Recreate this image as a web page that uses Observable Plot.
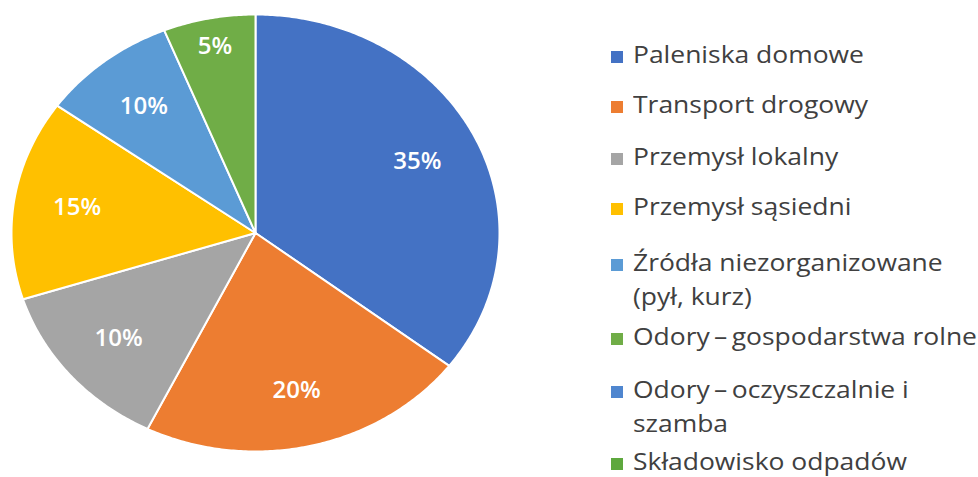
<!DOCTYPE html>
<html>
<head>
<meta charset="utf-8">
<script src="https://cdn.jsdelivr.net/npm/d3@7"></script>
<script src="https://cdn.jsdelivr.net/npm/@observablehq/plot@0.6"></script>
<style>
  html, body { margin: 0; padding: 0; background: #fff; }
  #wrap { position: relative; width: 978px; height: 477px; overflow: hidden; }
  #legend { position: absolute; left: 0; top: 0; font-family: "Open Sans", sans-serif; font-size: 23px; color: #404040; }
  .item { position: absolute; left: 611px; line-height: 34px; white-space: nowrap; }
  .sw { position: absolute; left: 0; top: 14px; width: 12px; height: 12px; }
  .tx { position: absolute; left: 22px; top: 0; transform: scaleX(1.15); transform-origin: 0 0; }
</style>
</head>
<body>
<div id="wrap"><div id="chart"></div><div id="legend"></div></div>
<script>
const categories = [
  "Paleniska domowe",
  "Transport drogowy",
  "Przemysł lokalny",
  "Przemysł sąsiedni",
  "Źródła niezorganizowane (pył, kurz)",
  "Odory – gospodarstwa rolne",
  "Odory – oczyszczalnie i szamba",
  "Składowisko odpadów"
];
// slice shares as drawn in the picture
const shares = [35.4, 21.9, 12.8, 14.8, 9.0, 6.1, 0, 0];
// labels as printed on the slices
const sliceLabels = ["35%", "20%", "10%", "15%", "10%", "5%", "", ""];
const legendLines = [
  ["Paleniska domowe"],
  ["Transport drogowy"],
  ["Przemysł lokalny"],
  ["Przemysł sąsiedni"],
  ["Źródła niezorganizowane", "(pył, kurz)"],
  ["Odory\u2009–\u2009gospodarstwa rolne"],
  ["Odory\u2009–\u2009oczyszczalnie i", "szamba"],
  ["Składowisko odpadów"]
];
const colors = ["#4472C4", "#ED7D31", "#A5A5A5", "#FFC000", "#5B9BD5", "#70AD47", "#4F86CF", "#5EA83E"];
// legend item top offsets (layout)
const legendTops = [37, 87, 139, 189, 245, 319, 372, 444];

const arcs = d3.pie().sort(null).value(d => d)(shares);
const polys = [];
const labelRows = [];
arcs.forEach((a, i) => {
  if (a.endAngle - a.startAngle <= 0) return;
  const n = Math.max(2, Math.ceil((a.endAngle - a.startAngle) / 0.01));
  polys.push({cat: categories[i], x: 0, y: 0});
  for (let k = 0; k <= n; k++) {
    const t = a.startAngle + (a.endAngle - a.startAngle) * k / n;
    polys.push({cat: categories[i], x: Math.sin(t), y: -Math.cos(t)});
  }
  const mid = (a.startAngle + a.endAngle) / 2;
  const r = shares[i] < 8 ? 0.87 : 0.74;
  labelRows.push({cat: categories[i], x: r * Math.sin(mid), y: -r * Math.cos(mid), text: sliceLabels[i]});
});

const chart = Plot.plot({
  width: 978,
  height: 477,
  margin: 0,
  x: {domain: [-1, 1], range: [11, 499], axis: null},
  y: {domain: [-1, 1], range: [14, 451], axis: null},
  color: {domain: categories, range: colors},
  marks: [
    Plot.line(polys, {x: "x", y: "y", z: "cat", fill: "cat", stroke: "white", strokeWidth: 2, curve: "linear-closed", strokeLinejoin: "round"}),
    Plot.text(labelRows, {x: "x", y: "y", text: "text", fill: "white", fontSize: 24, fontWeight: 600, fontFamily: "Open Sans"})
  ]
});
document.getElementById("chart").appendChild(chart);

const legend = document.getElementById("legend");
legendLines.forEach((lines, i) => {
  const item = document.createElement("div");
  item.className = "item";
  item.style.top = legendTops[i] + "px";
  const sw = document.createElement("div");
  sw.className = "sw";
  sw.style.background = colors[i];
  const tx = document.createElement("div");
  tx.className = "tx";
  tx.innerHTML = lines.join("<br>");
  item.appendChild(sw);
  item.appendChild(tx);
  legend.appendChild(item);
});
</script>
</body>
</html>
